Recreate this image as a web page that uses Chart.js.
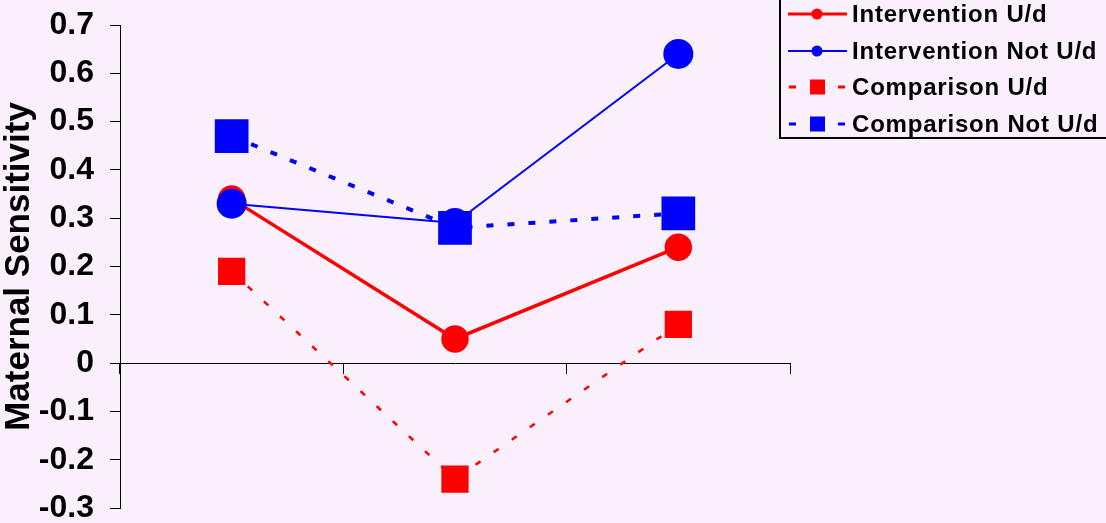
<!DOCTYPE html>
<html>
<head>
<meta charset="utf-8">
<script src="https://cdn.jsdelivr.net/npm/chart.js@4/dist/chart.umd.min.js"></script>
<style>
  html, body { margin: 0; padding: 0; background: #f9f0fc; }
  #wrap { width: 1106px; height: 523px; }
</style>
</head>
<body>
<div id="wrap"><canvas id="chart" width="1106" height="523"></canvas></div>
<script>
// values
const categories = ['1', '2', '3'];
const seriesNames = ['Intervention U/d', 'Intervention Not U/d', 'Comparison U/d', 'Comparison Not U/d'];
const interventionUd = [0.34, 0.05, 0.24];
const interventionNotUd = [0.33, 0.29, 0.64];
const comparisonUd = [0.19, -0.24, 0.08];
const comparisonNotUd = [0.47, 0.28, 0.31];
const yTicks = [-0.3, -0.2, -0.1, 0, 0.1, 0.2, 0.3, 0.4, 0.5, 0.6, 0.7];

const FONT = "'Liberation Sans', Arial, sans-serif";
const RED = '#ff0000';
const BLUE = '#0000ff';

// legend drawn by hand: line + marker, like the original box at the top right
const boxLegend = {
  id: 'boxLegend',
  afterDraw(chart) {
    const ctx = chart.ctx;
    ctx.save();
    ctx.strokeStyle = '#000';
    ctx.lineWidth = 2;
    ctx.strokeRect(780, -5, 340, 143);
    const rows = [14, 51, 87, 124];
    chart.data.datasets.forEach((ds, i) => {
      const y = rows[i];
      ctx.strokeStyle = ds.borderColor;
      ctx.fillStyle = ds.borderColor;
      ctx.lineWidth = ds.legendLine;
      ctx.beginPath();
      if (ds.borderDash.length) {
        ctx.moveTo(789, y); ctx.lineTo(796, y);
        ctx.moveTo(838, y); ctx.lineTo(845, y);
      } else {
        ctx.moveTo(788, y); ctx.lineTo(847, y);
      }
      ctx.stroke();
      if (ds.pointStyle === 'rect') {
        ctx.fillRect(810, y - 7.5, 15, 15);
      } else {
        ctx.beginPath();
        ctx.arc(817, y, 5.5, 0, Math.PI * 2);
        ctx.fill();
      }
      ctx.fillStyle = '#000';
      ctx.font = 'bold 24px ' + FONT;
      ctx.letterSpacing = '0.8px';
      ctx.textBaseline = 'middle';
      ctx.fillText(ds.label, 852, y + 1);
      ctx.letterSpacing = '0px';
    });
    ctx.restore();
  }
};

new Chart(document.getElementById('chart'), {
  type: 'line',
  data: {
    labels: categories,
    datasets: [
      {
        label: seriesNames[0], data: interventionUd, order: 3,
        borderColor: RED, backgroundColor: RED, borderWidth: 3.5, borderDash: [],
        pointStyle: 'circle', pointRadius: 12, legendLine: 3
      },
      {
        label: seriesNames[1], data: interventionNotUd, order: 2,
        borderColor: BLUE, backgroundColor: BLUE, borderWidth: 2, borderDash: [],
        pointStyle: 'circle', pointRadius: 14, legendLine: 2
      },
      {
        label: seriesNames[2], data: comparisonUd, order: 1,
        borderColor: RED, backgroundColor: RED, borderWidth: 2.5, borderDash: [6, 16],
        pointStyle: 'rect', pointRadius: 17.5, legendLine: 3
      },
      {
        label: seriesNames[3], data: comparisonNotUd, order: 0,
        borderColor: BLUE, backgroundColor: BLUE, borderWidth: 4, borderDash: [7, 14],
        pointStyle: 'rect', pointRadius: 21, legendLine: 3
      }
    ]
  },
  options: {
    responsive: false,
    animation: false,
    layout: { autoPadding: false, padding: { left: 0, right: 316, top: 25, bottom: 15 } },
    plugins: { legend: { display: false }, tooltip: { enabled: false } },
    elements: { line: { tension: 0 }, point: { borderWidth: 0, hoverRadius: 0 } },
    scales: {
      x: {
        position: { y: 0 },
        offset: true,
        grid: { offset: true, drawOnChartArea: false, drawTicks: true, tickLength: 10, color: '#000' },
        border: { display: true, color: '#000', width: 1 },
        ticks: { display: false }
      },
      y: {
        min: -0.3, max: 0.7,
        afterBuildTicks(scale) { scale.ticks = yTicks.map(v => ({ value: v })); },
        afterFit(scale) { scale.width = 120; scale.paddingTop = 0; scale.paddingBottom = 0; },
        grid: { drawOnChartArea: false, drawTicks: true, tickLength: 10, color: '#000' },
        border: { display: true, color: '#000', width: 1 },
        ticks: {
          padding: 16, color: '#000',
          font: { family: FONT, size: 32, weight: 'bold', lineHeight: 1 },
          callback: v => (Math.abs(v) < 1e-9 ? '0' : v.toFixed(1))
        },
        title: {
          display: true, text: 'Maternal Sensitivity', color: '#000',
          font: { family: FONT, size: 35, weight: 'bold', lineHeight: 1 },
          padding: { top: 2, bottom: 0 }
        }
      }
    }
  },
  plugins: [boxLegend]
});
</script>
</body>
</html>
